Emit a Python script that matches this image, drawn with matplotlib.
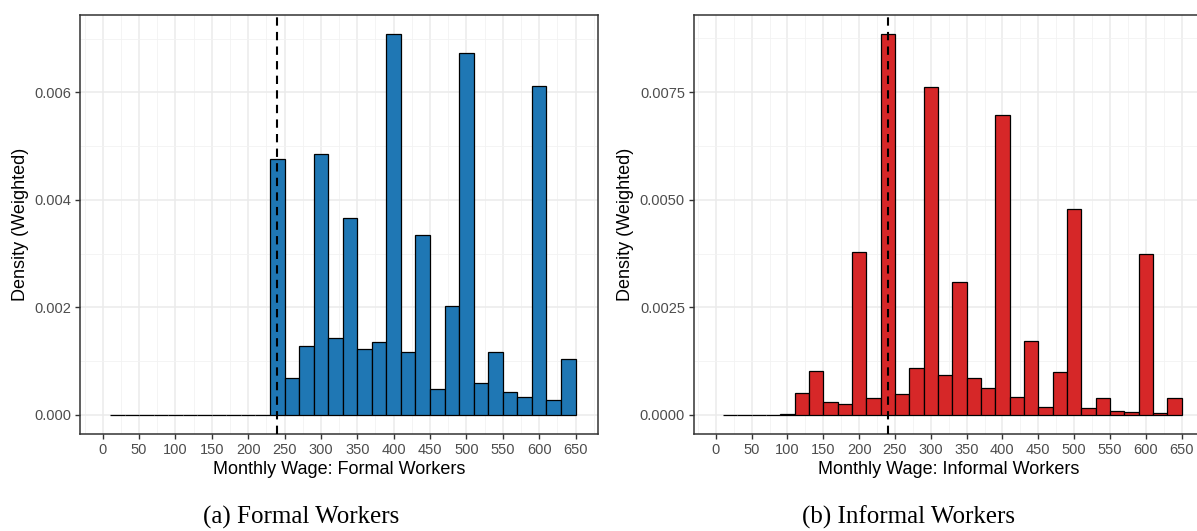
import numpy as np
import matplotlib
matplotlib.use("Agg")
import matplotlib.pyplot as plt
from matplotlib.ticker import MultipleLocator

plt.rcParams["font.family"] = ["Liberation Sans", "DejaVu Sans"]

# bin edges (width 20) from 10 to 650
bin_edges = list(range(10, 651, 20))

formal_density = [0, 0, 0, 0, 0, 0, 0, 0, 0, 0, 0,
                  0.00476, 0.00069, 0.00128, 0.00485, 0.00143, 0.00366,
                  0.00123, 0.00135, 0.00709, 0.00118, 0.00334, 0.00049,
                  0.00202, 0.00674, 0.00059, 0.00117, 0.00042, 0.00034,
                  0.00612, 0.00028, 0.00104]

informal_density = [0, 0, 0, 0, 0.00002, 0.00051, 0.00101, 0.00030, 0.00026,
                    0.00379, 0.00040, 0.00886, 0.00049, 0.00108, 0.00762,
                    0.00092, 0.00309, 0.00086, 0.00062, 0.00698, 0.00042,
                    0.00171, 0.00019, 0.00100, 0.00479, 0.00017, 0.00039,
                    0.00010, 0.00006, 0.00373, 0.00005, 0.00040]

min_wage = 240
x_ticks = list(range(0, 651, 50))

W, H = 1197, 531
fig = plt.figure(figsize=(W / 100, H / 100), dpi=100)

ax1 = fig.add_axes([80.3 / W, 97 / H, 518 / W, 419.3 / H])
ax2 = fig.add_axes([693.7 / W, 97 / H, 510.3 / W, 419.3 / H])


def panel(ax, dens, color, xlabel, ystep, fmt):
    left = bin_edges[:-1]
    ax.bar(left, dens, width=20, align="edge", color=color,
           edgecolor="black", linewidth=0.9, zorder=3)
    ax.axvline(min_wage, color="black", linestyle=(0, (4, 3)),
               linewidth=1.5, zorder=4)
    top = max(dens)
    ax.set_ylim(-0.05 * top, top * 1.05)
    ax.set_xlim(-30.8, 681.3)
    ax.set_xticks(x_ticks)
    ax.xaxis.set_minor_locator(MultipleLocator(25))
    ax.yaxis.set_major_locator(MultipleLocator(ystep))
    ax.yaxis.set_minor_locator(MultipleLocator(ystep / 2))
    ax.yaxis.set_major_formatter(plt.FuncFormatter(lambda v, p: fmt.format(v)))
    ax.grid(which="major", color="#EBEBEB", linewidth=1.1, zorder=0)
    ax.grid(which="minor", color="#F2F2F2", linewidth=0.6, zorder=0)
    ax.set_axisbelow(True)
    ax.tick_params(which="major", length=3.8, width=1, color="#333333",
                   labelsize=10.5, labelcolor="#4D4D4D", pad=2.5)
    ax.tick_params(which="minor", length=0)
    for s in ax.spines.values():
        s.set_color("#333333")
        s.set_linewidth(1.1)
    ax.set_xlabel(xlabel, fontsize=13, labelpad=3)
    ax.set_ylabel("Density (Weighted)", fontsize=13, labelpad=4)


panel(ax1, formal_density, "#1F77B4", "Monthly Wage: Formal Workers", 0.002, "{:.3f}")
panel(ax2, informal_density, "#D62728", "Monthly Wage: Informal Workers", 0.0025, "{:.4f}")

fig.text(301 / W, 1 - 517 / H, "(a) Formal Workers", ha="center", va="center",
         fontsize=18, family=["Liberation Serif", "DejaVu Serif"])
fig.text(908 / W, 1 - 517 / H, "(b) Informal Workers", ha="center", va="center",
         fontsize=18, family=["Liberation Serif", "DejaVu Serif"])

fig.savefig("out.png", dpi=100)
